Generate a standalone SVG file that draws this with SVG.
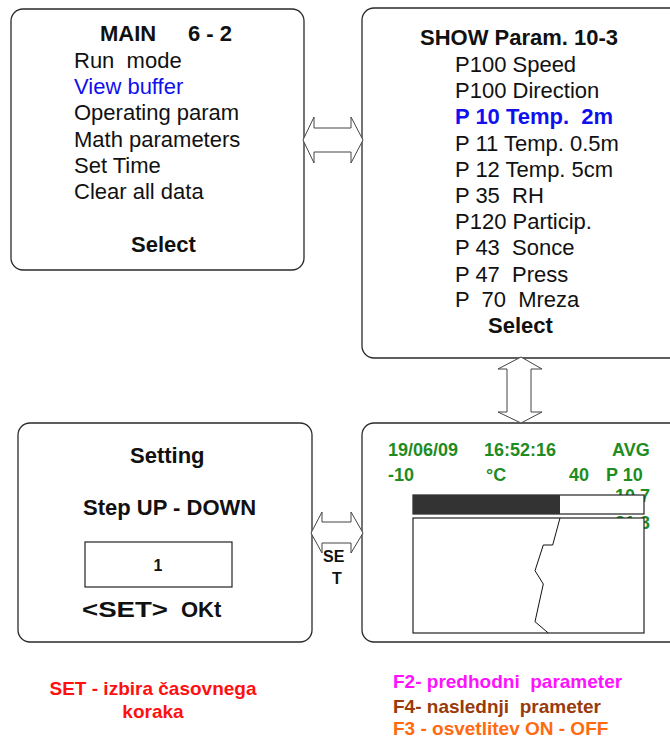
<svg xmlns="http://www.w3.org/2000/svg" width="670" height="738" viewBox="0 0 670 738">
<style>
text{font-family:"Liberation Sans",Arial,sans-serif;white-space:pre}
.box{fill:#fff;stroke:#2a2a2a;stroke-width:1.3}
.m{font-size:22px;fill:#111}
.b{font-size:22px;font-weight:bold;fill:#111}
.g{font-size:18px;font-weight:bold;fill:#1f8c1f}
.arr{fill:#fff;stroke:#444;stroke-width:1}
.leg{font-size:19px;font-weight:bold}
</style>
<rect x="0" y="0" width="670" height="738" fill="#fff"/>
<g id="main">
<rect class="box" x="11" y="9" width="293" height="261" rx="12"/>
<text class="b" x="100" y="41">MAIN<tspan x="188">6 - 2</tspan></text>
<text class="m" x="74" y="68">Run  mode</text>
<text class="m" x="74" y="94" style="fill:#1010ee">View buffer</text>
<text class="m" x="74" y="120">Operating param</text>
<text class="m" x="74" y="147">Math parameters</text>
<text class="m" x="74" y="173">Set Time</text>
<text class="m" x="74" y="199">Clear all data</text>
<text class="b" x="131" y="252">Select</text>
</g>
<g id="show">
<rect class="box" x="362" y="8" width="330" height="350" rx="12"/>
<text class="b" x="420" y="45">SHOW Param. 10-3</text>
<text class="m" x="455" y="72">P100 Speed</text>
<text class="m" x="455" y="98">P100 Direction</text>
<text class="b" x="455" y="124" style="fill:#1010ee">P 10 Temp.  2m</text>
<text class="m" x="455" y="151">P 11 Temp. 0.5m</text>
<text class="m" x="455" y="177">P 12 Temp. 5cm</text>
<text class="m" x="455" y="203">P 35  RH</text>
<text class="m" x="455" y="229">P120 Particip.</text>
<text class="m" x="455" y="255">P 43  Sonce</text>
<text class="m" x="455" y="282">P 47  Press</text>
<text class="m" x="455" y="307">P  70  Mreza</text>
<text class="b" x="488" y="333">Select</text>
</g>
<g id="setting">
<rect class="box" x="18" y="423" width="294" height="219" rx="12"/>
<text class="b" x="130" y="463">Setting</text>
<text class="b" x="83" y="515">Step UP - DOWN</text>
<rect x="85" y="542" width="147" height="45" fill="#fff" stroke="#222" stroke-width="1.2"/>
<text x="158" y="571" text-anchor="middle" style="font-size:16px;font-weight:bold;fill:#111">1</text>
<text class="b" x="82" y="617"><tspan textLength="86" lengthAdjust="spacingAndGlyphs">&lt;SET&gt;</tspan><tspan x="181">OKt</tspan></text>
</g>
<g id="display">
<rect class="box" x="362" y="423" width="330" height="219" rx="12"/>
<text class="g" x="388" y="456">19/06/09</text>
<text class="g" x="484" y="456">16:52:16</text>
<text class="g" x="612" y="456">AVG</text>
<text class="g" x="388" y="481">-10</text>
<text class="g" x="486" y="481">°C</text>
<text class="g" x="569" y="481">40</text>
<text class="g" x="606" y="481">P 10</text>
<text class="g" x="615" y="502">10.7</text>
<text class="g" x="615" y="529">21.3</text>
<rect x="413" y="495" width="231" height="19" fill="#fff" stroke="#222" stroke-width="1.2"/>
<rect x="413" y="495" width="147" height="19" fill="#333"/>
<rect x="413" y="518" width="231" height="115" fill="#fff" stroke="#222" stroke-width="1.2"/>
<polyline points="560,518 552.7,545 543.3,545 535,570.7 543.3,584 535,621.7 548.3,633" fill="none" stroke="#111" stroke-width="1"/>
</g>
<g id="connectors">
<polygon class="arr" points="303,140 314,117 314,128 351,128 351,117 363,140 351,163 351,152 314,152 314,163"/>
<polygon class="arr" points="521,357 542,369 531,369 531,412 542,412 521,423 498,412 507,412 507,369 498,369"/>
<polygon class="arr" points="311,533 322,512 322,522 351,522 351,512 363,533 351,553 351,543 322,543 322,553"/>
<text x="323" y="562" style="font-size:16px;font-weight:bold;fill:#111">SE</text>
<text x="332" y="584" style="font-size:16px;font-weight:bold;fill:#111">T</text>
</g>
<g id="legend">
<text class="leg" x="153" y="695" text-anchor="middle" fill="#ff1010">SET - izbira časovnega</text>
<text class="leg" x="153" y="718" text-anchor="middle" fill="#ff1010">koraka</text>
<text class="leg" x="393" y="688" fill="#ff10ff">F2- predhodni  parameter</text>
<text class="leg" x="393" y="713" fill="#993a0a">F4- naslednji  prameter</text>
<text class="leg" x="393" y="735" fill="#ff6a10">F3 - osvetlitev ON - OFF</text>
</g>
</svg>
